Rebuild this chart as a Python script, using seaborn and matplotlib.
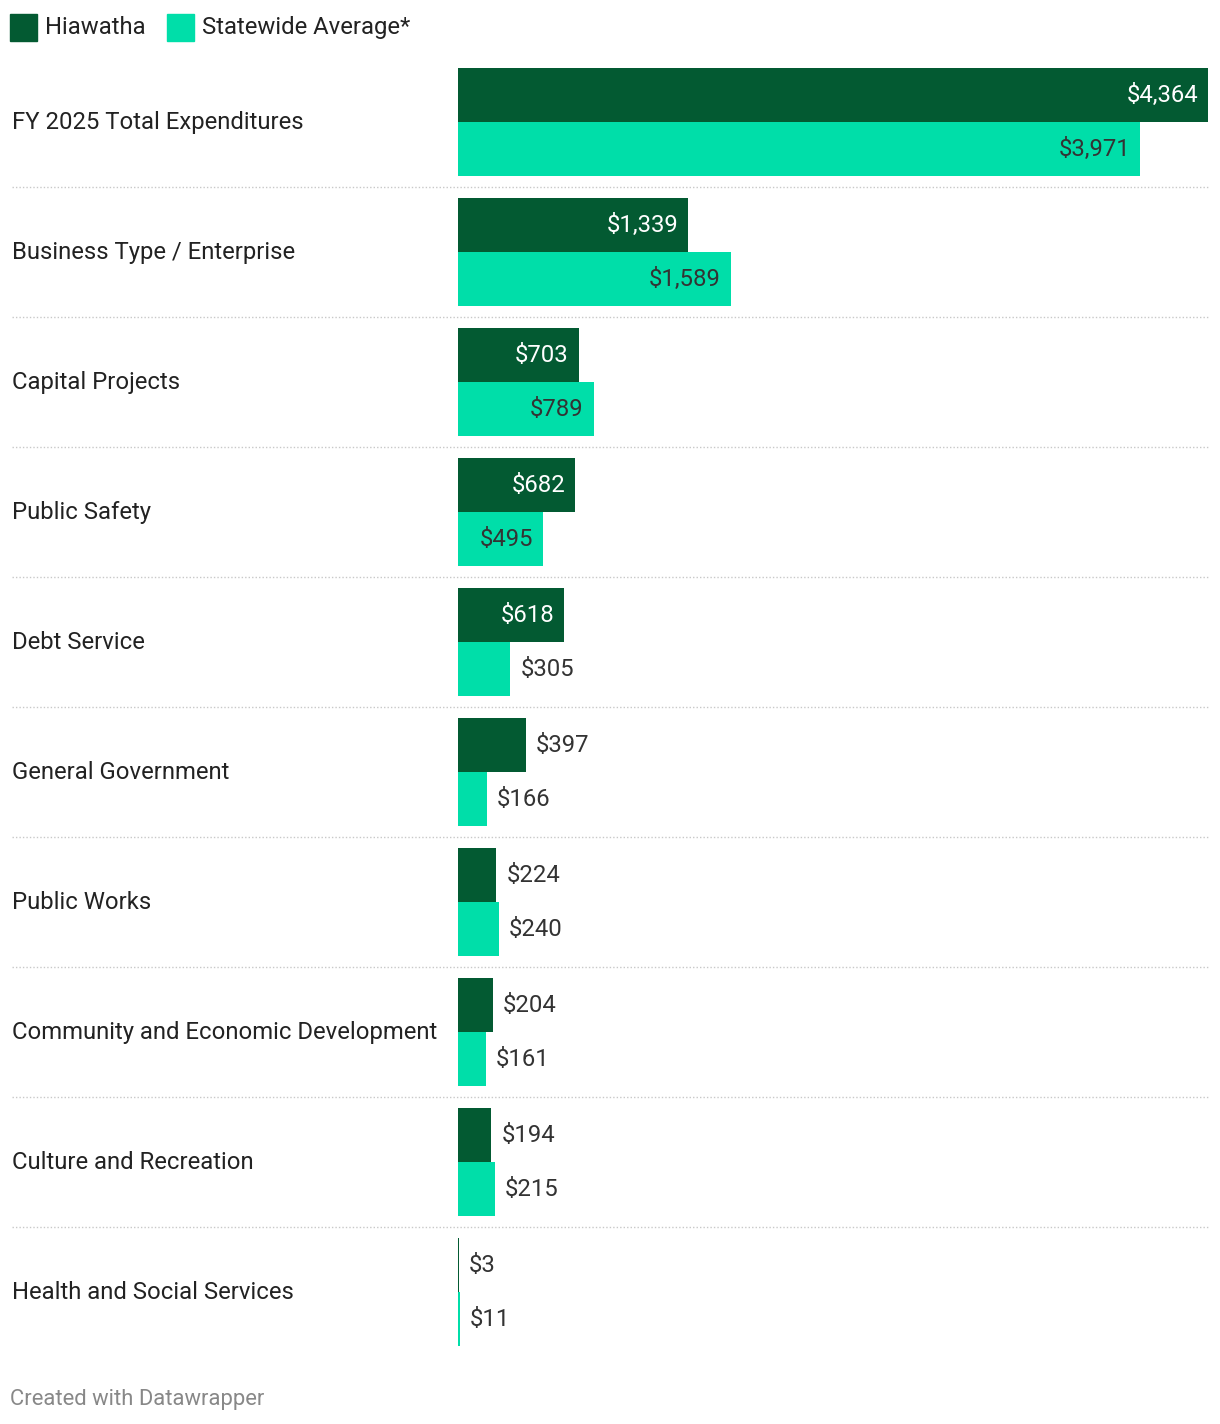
import matplotlib
matplotlib.use("Agg")
import matplotlib.pyplot as plt
from matplotlib.patches import Rectangle
import seaborn as sns
import pandas as pd

categories = ["FY 2025 Total Expenditures", "Business Type / Enterprise", "Capital Projects",
              "Public Safety", "Debt Service", "General Government", "Public Works",
              "Community and Economic Development", "Culture and Recreation",
              "Health and Social Services"]
series_names = ["Hiawatha", "Statewide Average*"]
hiawatha = [4364, 1339, 703, 682, 618, 397, 224, 204, 194, 3]
statewide = [3971, 1589, 789, 495, 305, 166, 240, 161, 215, 11]
colors = ["#035a32", "#00dea9"]
inside_text_colors = ["white", "#333333"]

sns.set_theme(style="white")
plt.rcParams["font.family"] = ["Roboto", "DejaVu Sans"]

df = pd.DataFrame({
    "category": categories * 2,
    "series": [series_names[0]] * len(categories) + [series_names[1]] * len(categories),
    "value": hiawatha + statewide,
})

W, H = 1220, 1424
fig = plt.figure(figsize=(W / 100, H / 100), dpi=100)
ax_left, ax_right = 458, 1208
ax_top, ax_bot = 57, 1357
ax = fig.add_axes([ax_left / W, 1 - ax_bot / H, (ax_right - ax_left) / W, (ax_bot - ax_top) / H])

sns.barplot(data=df, y="category", x="value", hue="series", order=categories,
            hue_order=series_names, palette=colors, width=108 / 130, dodge=True,
            orient="h", legend=False, ax=ax, saturation=1, linewidth=0)

xmax = max(max(hiawatha), max(statewide))
ax.set_xlim(0, xmax)
ax.set_ylim(len(categories) - 0.5, -0.5)
ax.set_xlabel("")
ax.set_ylabel("")
ax.set_xticks([])
ax.set_yticks([])
for s in ax.spines.values():
    s.set_visible(False)

FS = 17.2
cap_off = -0.711 * FS * 100 / 72 / 2 + 1.5  # pixels to drop baseline below center

px_per_unit = (ax_right - ax_left) / xmax
half = (108 / 130) / 4
for si, vals in enumerate([hiawatha, statewide]):
    for i, v in enumerate(vals):
        y = i - half if si == 0 else i + half
        txt = f"${v:,}"
        if v * px_per_unit > 80:
            ax.annotate(txt, (v, y), xytext=(-10, cap_off), textcoords="offset pixels",
                        ha="right", va="baseline", fontsize=FS,
                        color=inside_text_colors[si])
        else:
            ax.annotate(txt, (v, y), xytext=(10, cap_off), textcoords="offset pixels",
                        ha="left", va="baseline", fontsize=FS, color="#333333")

ytrans = ax.get_yaxis_transform()
x0_axes = (12 - ax_left) / (ax_right - ax_left)
for i, c in enumerate(categories):
    ax.annotate(c, (x0_axes, i), xycoords=ytrans, xytext=(0, cap_off),
                textcoords="offset pixels", ha="left", va="baseline",
                fontsize=FS, color="#222222")
for i in range(len(categories) - 1):
    ax.plot([x0_axes, 1], [i + 0.5, i + 0.5], transform=ytrans, clip_on=False,
            color="#c8c8c8", linestyle=(0, (1, 1.5)), linewidth=1)

# legend
lx = 10
for name, col in zip(series_names, colors):
    fig.patches.append(Rectangle((lx / W, 1 - 41 / H), 27 / W, 27 / H,
                                 transform=fig.transFigure, color=col))
    t = fig.text((lx + 35) / W, 1 - (27 - cap_off) / H, name, ha="left", va="baseline",
                 fontsize=FS, color="#222222")
    fig.canvas.draw()
    bb = t.get_window_extent()
    lx = bb.x1 + 21

FS2 = 15.8
fig.text(10 / W, 1 - (1398 + 0.711 * FS2 * 100 / 72 / 2 - 1) / H, "Created with Datawrapper",
         ha="left", va="baseline", fontsize=FS2, color="#888888")

fig.savefig("out.png", dpi=100)
